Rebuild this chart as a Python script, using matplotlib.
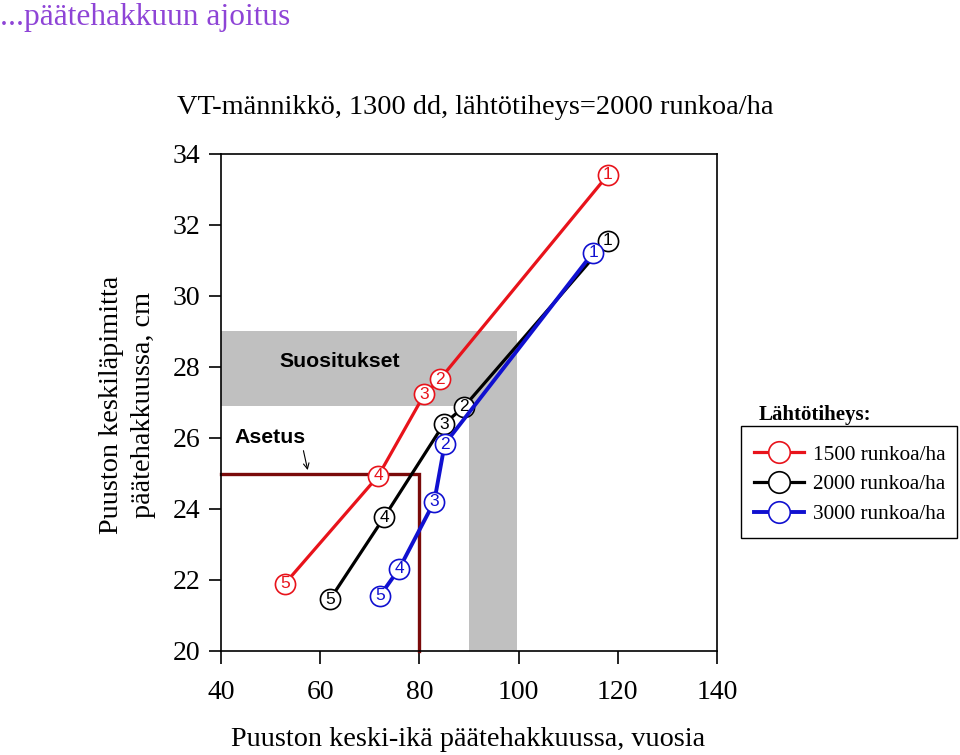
import matplotlib
matplotlib.use('Agg')
import matplotlib.pyplot as plt
from matplotlib.lines import Line2D
from matplotlib.patches import Rectangle

# datat (keski-ikä, keskiläpimitta), pisteet 5 -> 1
age_1500 = [52.9, 71.7, 81.0, 84.1, 118.0]
dbh_1500 = [21.9, 24.93, 27.23, 27.65, 33.41]
age_2000 = [62.0, 72.9, 84.9, 89.0, 118.0]
dbh_2000 = [21.46, 23.77, 26.39, 26.88, 31.56]
age_3000 = [72.0, 75.9, 83.0, 85.1, 115.0]
dbh_3000 = [21.55, 22.31, 24.21, 25.83, 31.22]
point_labels = ['5', '4', '3', '2', '1']
series_labels = ['1500 runkoa/ha', '2000 runkoa/ha', '3000 runkoa/ha']

# suositusalue ja asetus
rec_age = [90, 99.6]
rec_dbh = [26.9, 29.0]
asetus_age = 80
asetus_dbh = 25

serif = ['Liberation Serif', 'DejaVu Serif']
sans = ['Liberation Sans', 'DejaVu Sans']

fig = plt.figure(figsize=(9.6, 7.55), dpi=100)
ax = fig.add_axes([221 / 960, 1 - 651 / 755, 496 / 960, 497 / 755])

# harmaa L-muotoinen alue
ax.fill_between([40, rec_age[1]], rec_dbh[0], rec_dbh[1], color='#c0c0c0', lw=0, zorder=1)
ax.fill_between([rec_age[0], rec_age[1]], 20, rec_dbh[0], color='#c0c0c0', lw=0, zorder=1)

# asetus
ax.plot([40, asetus_age, asetus_age], [asetus_dbh, asetus_dbh, 20], color='#7a0a0a', lw=2.4,
        solid_joinstyle='miter', zorder=2, clip_on=False)

series = [(age_1500, dbh_1500, '#e8131b', 2.3),
          (age_2000, dbh_2000, 'black', 2.3),
          (age_3000, dbh_3000, '#1010d0', 2.8)]
z = 3
for xs, ys, col, lw in series:
    ax.plot(xs, ys, color=col, lw=lw, zorder=z)
    z += 1
    for x, y, lab in zip(xs, ys, point_labels):
        ax.plot(x, y, 'o', ms=14.5, mfc='white', mec=col, mew=1.2, zorder=z)
        ax.text(x, y, lab, color=col, ha='center', va='center', fontsize=12.5,
                family=sans, zorder=z + 0.5)
        z += 1

ax.text(51.8, 28.15, 'Suositukset', fontsize=15.3, fontweight='bold', family=sans,
        va='center', ha='left', zorder=30)
ax.text(42.8, 26.0, 'Asetus', fontsize=15.3, fontweight='bold', family=sans,
        va='center', ha='left', zorder=30)
ax.annotate('', xy=(57.6, 25.02), xytext=(56.5, 25.72),
            arrowprops=dict(arrowstyle='->', lw=0.8, color='black'), zorder=30)

ax.set_xlim(40, 140)
ax.set_ylim(20, 34)
ax.set_xticks(range(40, 141, 20))
ax.set_yticks(range(20, 35, 2))
ax.tick_params(direction='out', length=9, width=1.2, labelsize=20, pad=6)
ax.tick_params(axis='x', pad=12)
for lab in ax.get_xticklabels() + ax.get_yticklabels():
    lab.set_family(serif)
for s in ax.spines.values():
    s.set_linewidth(1.2)

fig.text(475 / 960, 1 - 108 / 755, 'VT-männikkö, 1300 dd, lähtötiheys=2000 runkoa/ha',
         fontsize=20.4, family=serif, ha='center', va='center')
fig.text(468 / 960, 1 - 740 / 755, 'Puuston keski-ikä päätehakkuussa, vuosia',
         fontsize=20.3, family=serif, ha='center', va='center')
fig.text(111 / 960, 1 - 405 / 755, 'Puuston keskiläpimitta', rotation=90, fontsize=20.3,
         family=serif, ha='center', va='center')
fig.text(143 / 960, 1 - 405 / 755, 'päätehakkuussa, cm', rotation=90, fontsize=20.3,
         family=serif, ha='center', va='center')

fig.text(0.0, 1 - 17 / 755, '...päätehakkuun ajoitus', fontsize=22.6, family=serif,
         color='#8e44d6', ha='left', va='center')

# selite: kehys erikseen
fig.patches.append(Rectangle((741 / 960, 1 - 538 / 755), 216 / 960, 112 / 755,
                             transform=fig.transFigure, fill=False, ec='black', lw=1.0))
handles = [Line2D([], [], color=c, lw=lw, marker='o', ms=15.5, mfc='white', mec=c, mew=1.2)
           for _, _, c, lw in series]
leg = fig.legend(handles, series_labels, loc='upper left',
                 bbox_to_anchor=(741 / 960, 1 - 432 / 755), borderaxespad=0,
                 prop={'family': serif, 'size': 15.3}, handlelength=2.35,
                 frameon=False, labelspacing=0.47, borderpad=0.6, handletextpad=0.45)
fig.text(815 / 960, 1 - 415 / 755, 'Lähtötiheys:', fontsize=15, fontweight='bold',
         family=serif, ha='center', va='center')

fig.savefig('out.png', dpi=100)
